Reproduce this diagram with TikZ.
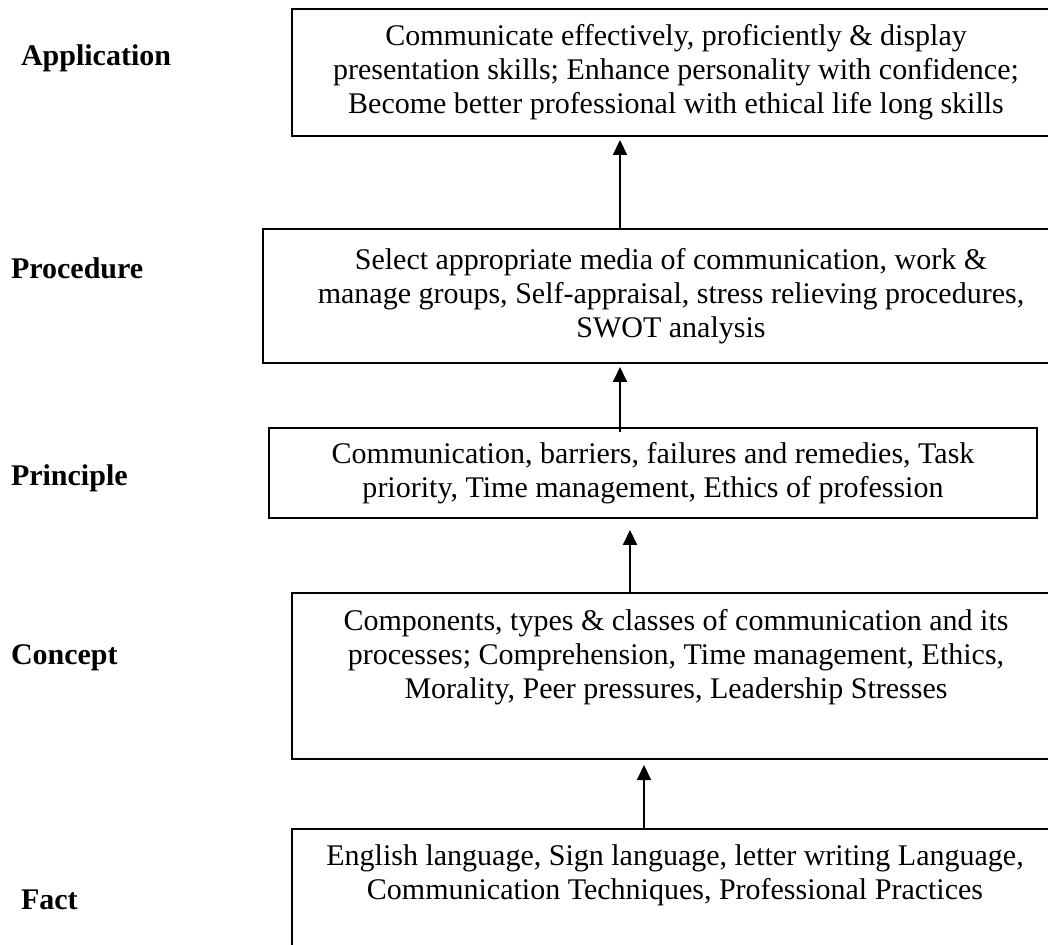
\documentclass[tikz,border=0pt]{standalone}
\usepackage{fontspec}
\setmainfont{Liberation Serif}
\usetikzlibrary{arrows.meta,calc}

\begin{document}
\begin{tikzpicture}[x=.5pt,y=-.5pt,line width=1pt,
  levelbox/.style={draw,anchor=north west,inner sep=0pt,align=center,font=\fontsize{15}{17}\selectfont},
  levelname/.style={anchor=west,inner sep=0pt,font=\fontsize{15}{17}\selectfont\bfseries},
  arr/.style={-{Triangle[length=7.5pt,width=7pt]}}]
\useasboundingbox (0,0) rectangle (1048,945);
\clip (0,0) rectangle (1048,945);
\node[levelbox,minimum width=384pt,minimum height=63.5pt] (app) at (291,8) {Communicate effectively, proficiently \& display\\presentation skills; Enhance personality with confidence;\\Become better professional with ethical life long skills};
\node[levelbox,minimum width=408pt,minimum height=67pt] (proc) at (262,228) {Select appropriate media of communication, work \&\\manage groups, Self-appraisal, stress relieving procedures,\\SWOT analysis};
\node[levelbox,minimum width=384pt,minimum height=45pt] (prin) at (268,427) {Communication, barriers, failures and remedies, Task\\priority, Time management, Ethics of profession};
\node[levelbox,minimum width=384pt,minimum height=83pt] (conc) at (291,592) {Components, types \& classes of communication and its\\processes; Comprehension, Time management, Ethics,\\Morality, Peer pressures, Leadership Stresses\\\strut};
\node[levelbox,minimum width=383pt,minimum height=82pt] (fact) at (291,828) {English language, Sign language, letter writing Language,\\Communication Techniques, Professional Practices\\\strut\\\strut};
\node[levelname] (lapp) at (20,58) {Application};
\node[levelname] (lproc) at (10,268) {Procedure};
\node[levelname] (lprin) at (10,478) {Principle};
\node[levelname] (lconc) at (10,658) {Concept};
\node[levelname] (lfact) at (20,900) {Fact};
% arrows up the levels
\draw[arr] (proc.north -| 620,0) -- ($(app.south -| 620,0)+(0,3)$);
\draw[arr] ($(prin.north -| 620,0)+(0,5)$) -- ($(proc.south -| 620,0)+(0,3)$);
\draw[arr] (conc.north -| 630,0) -- ($(prin.south -| 630,0)+(0,11)$);
\draw[arr] (fact.north -| 644,0) -- ($(conc.south -| 644,0)+(0,5)$);
\end{tikzpicture}
\end{document}
